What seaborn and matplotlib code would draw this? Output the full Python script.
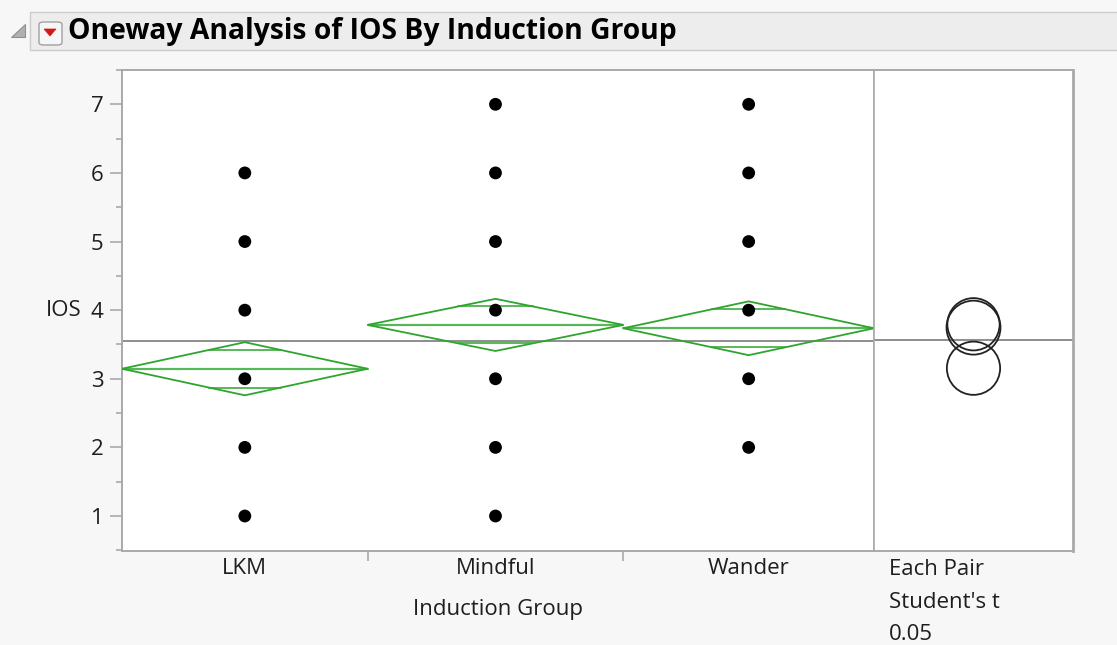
import numpy as np
import pandas as pd
import matplotlib
matplotlib.use("Agg")
import matplotlib.pyplot as plt
import seaborn as sns
from matplotlib.patches import Polygon, Ellipse, FancyBboxPatch, Rectangle

# ---------------- data ----------------
groups = ["LKM", "Mindful", "Wander"]
group_n = [49, 51, 50]                      # relative group widths (sample sizes)
lkm_ios = [1, 2, 3, 4, 5, 6]
mindful_ios = [1, 2, 3, 4, 5, 6, 7]
wander_ios = [2, 3, 4, 5, 6, 7]
group_means = [3.146, 3.785, 3.736]
ci_halfwidth = [0.387, 0.380, 0.392]
grand_mean = 3.55
y_ticks = [1, 2, 3, 4, 5, 6, 7]
title = "Oneway Analysis of IOS By Induction Group"
x_title = "Induction Group"
y_title = "IOS"
circle_caption = "Each Pair\nStudent's t\n0.05"

# ---------------- style ----------------
sns.set_theme(style="white")
plt.rcParams["font.family"] = ["Open Sans", "DejaVu Sans"]
BG = "#f7f7f7"
GRID = "#a9a9a9"
GREEN = "#2ea52e"
FS = 16
TXT = "#1e1e1e"

W, H = 1117, 645
fig = plt.figure(figsize=(W / 100, H / 100), dpi=100, facecolor=BG)

def fx(px):
    return px / W

def fy(py):
    return 1 - py / H

# axes geometry (pixels)
L, R, T, B, D = 122, 1073, 70, 551, 874
ax = fig.add_axes([fx(L), fy(B), fx(D - L), (B - T) / H])
axc = fig.add_axes([fx(D), fy(B), fx(R - D), (B - T) / H])

ylim = (0.49, 7.48)

# ---------------- points ----------------
n = np.array(group_n, dtype=float)
edges = np.concatenate([[0], np.cumsum(n)])
centers = edges[:-1] + n / 2
vals = [lkm_ios, mindful_ios, wander_ios]
df = pd.DataFrame({
    "group": np.repeat(groups, [len(v) for v in vals]),
    "IOS": np.concatenate(vals),
})
df["x"] = df["group"].map(dict(zip(groups, centers)))

# grand mean line
ax.axhline(grand_mean, color="#858585", lw=1.3, zorder=1)
axc.axhline(grand_mean, color="#858585", lw=1.3, zorder=1)

# means diamonds
for i, (m, hw) in enumerate(zip(group_means, ci_halfwidth)):
    x0, x1, xc = edges[i], edges[i + 1], centers[i]
    dia = Polygon([[x0, m], [xc, m + hw], [x1, m], [xc, m - hw]], closed=True,
                  fill=False, edgecolor=GREEN, lw=1.3, zorder=3)
    ax.add_patch(dia)
    ax.plot([x0, x1], [m, m], color=GREEN, lw=1.6, alpha=0.8, zorder=3)
    off = hw / np.sqrt(2)
    half = (x1 - x0) / 2 * (1 - 1 / np.sqrt(2))
    for s in (1, -1):
        ax.plot([xc - half, xc + half], [m + s * off, m + s * off],
                color=GREEN, lw=1.3, alpha=0.85, zorder=3)

sns.scatterplot(data=df, x="x", y="IOS", ax=ax, color="black", s=85,
                edgecolor="none", zorder=4, legend=False)

ax.set_xlim(edges[0], edges[-1])
ax.set_ylim(*ylim)
ax.set_facecolor("white")
for sp in ax.spines.values():
    sp.set_color(GRID)
    sp.set_linewidth(1.4)
ax.spines["right"].set_linewidth(1.2)

ax.set_yticks(y_ticks)
ax.set_yticklabels([str(t) for t in y_ticks])
ax.set_yticks(np.arange(0.5, 7.51, 1.0), minor=True)
ax.tick_params(axis="y", which="major", left=True, direction="out", length=9,
               width=1.2, color=GRID, pad=4.5, labelsize=FS, labelcolor=TXT)
ax.tick_params(axis="y", which="minor", left=True, direction="out", length=4.5,
               width=1.2, color=GRID)

ax.set_xticks(edges[1:-1])
ax.set_xticklabels([])
ax.set_xticks(centers, minor=True)
ax.set_xticklabels(groups, minor=True)
ax.tick_params(axis="x", which="major", bottom=True, direction="out", length=7,
               width=1.2, color=GRID)
ax.tick_params(axis="x", which="minor", bottom=False, length=0, pad=5,
               labelsize=FS, labelcolor=TXT)
ax.set_xlabel(x_title, fontsize=FS, color=TXT, labelpad=14.5)
ax.set_ylabel(y_title, fontsize=FS, color=TXT, rotation=0,
              ha="center", va="center")
ax.yaxis.set_label_coords((64 - L) / (D - L), (B - 310) / (B - T))

# ---------------- comparison circles ----------------
ppu = (B - T) / (ylim[1] - ylim[0])
xr = (R - D) / ppu / 2
axc.set_xlim(-xr, xr)
axc.set_ylim(*ylim)
axc.set_facecolor("white")
for m, hw in zip(group_means, ci_halfwidth):
    axc.add_patch(Ellipse((0, m), 2 * hw, 2 * hw, fill=False,
                          edgecolor="#222222", lw=1.3, zorder=3))
for sp in axc.spines.values():
    sp.set_color(GRID)
    sp.set_linewidth(1.4)
axc.spines["left"].set_linewidth(1.2)
axc.spines["right"].set_linewidth(2.0)
axc.set_xticks([])
axc.set_yticks([])

fig.text(fx(889), fy(559), circle_caption, ha="left", va="top",
         fontsize=FS, color=TXT, linespacing=1.72,
         transform=fig.transFigure)

# ---------------- header bar ----------------
fig.patches.append(Rectangle((fx(30), fy(50)), fx(1100), (50 - 12) / H,
                             transform=fig.transFigure, facecolor="#ededed",
                             edgecolor="#cccccc", lw=1.0, zorder=0))
fig.patches.append(Polygon([[fx(11), fy(37)], [fx(25), fy(37)], [fx(25), fy(24)]],
                           closed=True, transform=fig.transFigure,
                           facecolor="#b0b0b0", edgecolor="#909090", lw=0.8))
fig.patches.append(FancyBboxPatch((fx(39), fy(45)), fx(23), 23 / H,
                                  boxstyle="round,pad=0,rounding_size=0.004",
                                  transform=fig.transFigure, facecolor="#f6f6f6",
                                  edgecolor="#a0a0a0", lw=1.0))
fig.patches.append(Polygon([[fx(44), fy(29)], [fx(56), fy(29)], [fx(50), fy(36)]],
                           closed=True, transform=fig.transFigure,
                           facecolor="#d41616", edgecolor="#d41616", lw=0.5))
fig.text(fx(68), fy(32), title, ha="left", va="center", fontsize=20.3,
         fontweight="bold", color="black")

fig.savefig("out.png", dpi=100, facecolor=BG)
